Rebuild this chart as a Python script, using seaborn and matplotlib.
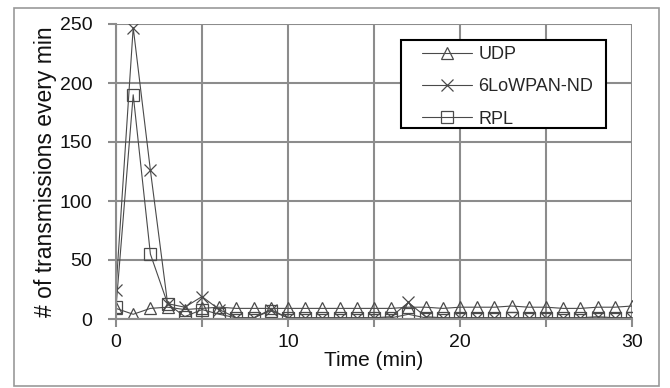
import matplotlib
matplotlib.use("Agg")
import matplotlib.pyplot as plt
import seaborn as sns
import numpy as np
from matplotlib.patches import Rectangle

time = list(range(31))
udp = [9, 4, 9, 10, 8, 9, 10, 9, 9, 9, 9, 9, 9, 9, 9, 9, 9, 10, 10, 9, 10, 10, 10, 11, 10, 10, 9, 9, 10, 10, 11]
lowpan = [25, 247, 126, 13, 10, 19, 8, 1, 1, 8, 1, 1, 1, 1, 1, 1, 2, 14, 2, 1, 1, 1, 1, 1, 1, 1, 1, 1, 2, 1, 1]
rpl = [10, 190, 55, 13, 2, 8, 4, 1, 1, 7, 1, 1, 1, 1, 1, 1, 1, 4, 1, 1, 1, 1, 1, 1, 1, 1, 1, 1, 1, 1, 1]

series_names = ["UDP", "6LoWPAN-ND", "RPL"]
x_ticks = [0, 5, 10, 15, 20, 25, 30]
x_labels = ["0", "", "10", "", "20", "", "30"]
y_ticks = [0, 50, 100, 150, 200, 250]

sns.set_theme(style="white")
plt.rcParams['font.family'] = ['Liberation Sans', 'DejaVu Sans']

W, H = 670, 388
fig = plt.figure(figsize=(W / 100, H / 100), dpi=100)
ax = fig.add_axes([116 / W, 1 - 319 / H, (632 - 116) / W, (319 - 24) / H])

line_c = "#4a4a4a"
grid_c = "#8c8c8c"

sns.lineplot(x=time, y=udp, ax=ax, color=line_c, lw=0.8, marker="^", markersize=8,
             markerfacecolor="none", markeredgecolor=line_c, markeredgewidth=0.9, label=series_names[0])
sns.lineplot(x=time, y=lowpan, ax=ax, color=line_c, lw=0.8, marker="x", markersize=9,
             markeredgecolor=line_c, markeredgewidth=0.9, label=series_names[1])
sns.lineplot(x=time, y=rpl, ax=ax, color=line_c, lw=0.8, marker="s", markersize=8,
             markerfacecolor="none", markeredgecolor=line_c, markeredgewidth=0.9, label=series_names[2])

ax.set_xlim(0, 30)
ax.set_ylim(0, 250)
ax.set_xticks(x_ticks)
ax.set_xticklabels(x_labels)
ax.set_yticks(y_ticks)
ax.grid(True, color=grid_c, lw=1.5)
ax.set_axisbelow(True)
for s in ["top", "right"]:
    ax.spines[s].set_visible(False)
for s in ["left", "bottom"]:
    ax.spines[s].set_color(grid_c)
    ax.spines[s].set_linewidth(1.5)
ax.tick_params(axis="both", which="major", direction="out", length=6, width=1.5,
               color=grid_c, labelsize=14, labelcolor="#111111",
               bottom=True, left=True)
ax.tick_params(axis="y", pad=11)
ax.tick_params(axis="x", pad=5)

ax.set_xlabel("Time (min)", fontsize=15, color="#111111", labelpad=0)
ax.set_ylabel("# of transmissions every min", fontsize=16.5, color="#111111", labelpad=2)

leg = ax.legend(loc="upper left", bbox_to_anchor=(416 / W, 1 - 40 / H), bbox_transform=fig.transFigure,
                fontsize=13, frameon=False, borderaxespad=0, handlelength=2.77, handletextpad=0.33,
                borderpad=0.35, labelspacing=0.84)
leg.set_zorder(6)

box = Rectangle((401 / W, 1 - 128 / H), (606 - 401) / W, (128 - 40) / H, transform=fig.transFigure,
                facecolor="white", edgecolor="black", lw=1.5, zorder=5, clip_on=False)
ax.add_patch(box)

fig.patches.append(Rectangle((14 / W, 1 - 386 / H), (659 - 14) / W, (386 - 8) / H, transform=fig.transFigure,
                             fill=False, edgecolor="#999999", lw=1.2))

fig.savefig("out.png", dpi=100)
